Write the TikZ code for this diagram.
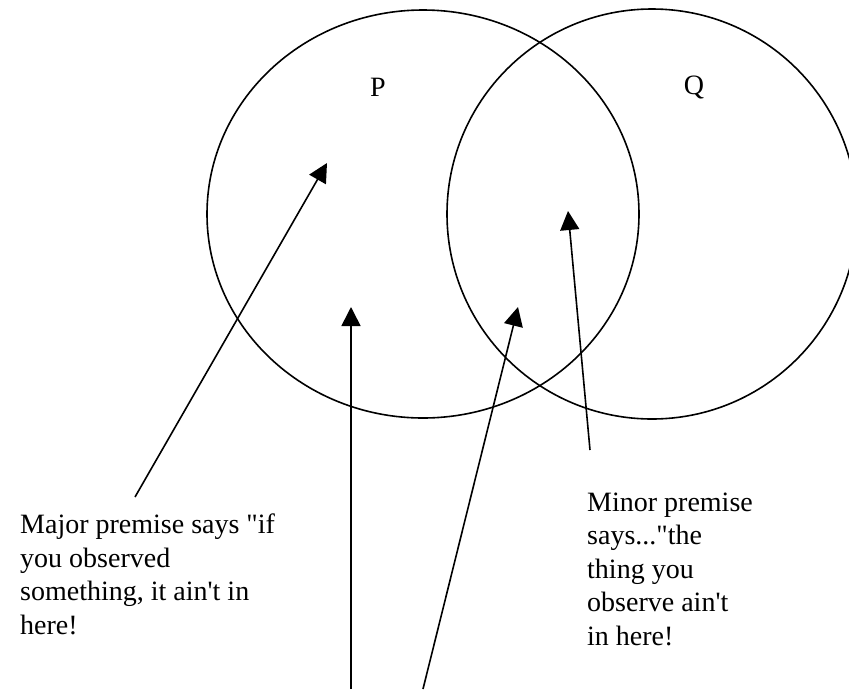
\documentclass[tikz,border=0pt]{standalone}
\usepackage{fontspec}
\setmainfont{Liberation Serif}[Ligatures=TeXOff]
\usetikzlibrary{arrows.meta}

\begin{document}
\begin{tikzpicture}[x=1pt,y=-1pt,
 c/.style={draw,line width=1.6pt},
 t/.style={font=\fontsize{28}{33.5}\selectfont,inner sep=0pt},
 a/.style={-{Triangle[length=19pt,width=19pt]},line width=1.6pt}]
\useasboundingbox (0,0) rectangle (849,689);
\clip (0,0) rectangle (849,689);
% the two sets
\draw[c] (423,214) ellipse [x radius=216pt,y radius=204pt];
\draw[c] (652,214) circle [radius=205pt];
\node[t] (p) at (378,87) {P};
\node[t] (q) at (694,87) {Q};
% the two premises (base = last line)
\node[t,align=left,anchor=base west] (major) at (20,634) {Major premise says "if\\you observed\\something, it ain't in\\here!};
\node[t,align=left,anchor=base west] (minor) at (587,645) {Minor premise\\says..."the\\thing you\\observe ain't\\in here!};
% arrow ends
\coordinate (majtip) at (327,163);
\coordinate (majend) at (135,497);
\coordinate (mintip) at (568,211);
\coordinate (minend) at (590,450);
\coordinate (ltip) at (351,307);
\coordinate (lend) at (351,689);
\coordinate (rtip) at (518,307);
\coordinate (rend) at (423,689);
\draw[a] (majend)--(majtip);
\draw[a] (minend)--(mintip);
\draw[a] (lend)--(ltip);
\draw[a] (rend)--(rtip);
\end{tikzpicture}
\end{document}
